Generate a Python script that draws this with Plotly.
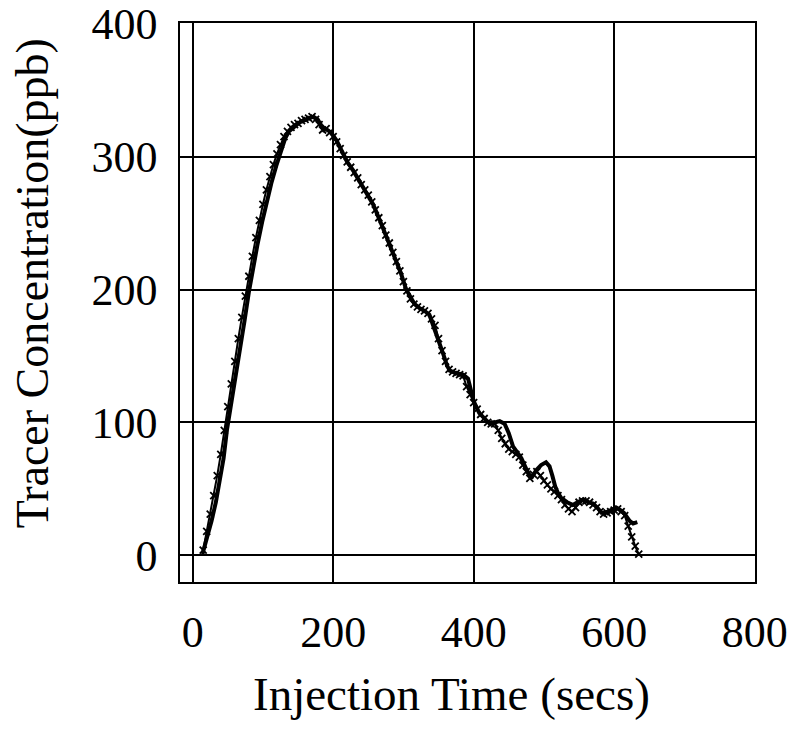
import plotly.graph_objects as go

# Solid-line series (time in secs, concentration in ppb)
time_line = [14, 20, 27, 33, 38, 44, 49, 55, 60, 67, 74, 80, 85, 92, 99, 105, 112, 119, 126,
             132, 137, 145, 153, 162, 172, 178, 186, 192, 197, 205, 213, 220, 228, 236, 245,
             257, 268, 279, 288, 296, 304, 310, 316, 323, 330, 337, 342, 347, 352, 357, 362,
             366, 375, 385, 392, 396, 400, 408, 415, 423, 430, 437, 444, 450, 456, 462, 468,
             475, 482, 489, 496, 503, 508, 512, 516, 520, 525, 533, 541, 548, 556, 563, 570,
             576, 582, 587, 591, 597, 603, 609, 614, 618, 622, 627, 633]
conc_line = [1, 12, 26, 40, 55, 73, 95, 114, 131, 155, 177, 198, 214, 233, 251, 266, 280, 293, 305,
             314, 319, 323, 326, 328, 330, 328, 321, 320, 318, 312, 303, 296, 290, 283, 275,
             264, 250, 236, 224, 213, 200, 194, 189, 186, 184, 181, 174, 167, 160, 151, 143,
             139, 137, 136, 133, 124, 116, 107, 103, 99, 100, 101, 99, 92, 82, 78, 73,
             65, 58, 64, 68, 70, 67, 60, 52, 47, 43, 40, 38, 40, 42, 40, 39,
             36, 32, 32, 33, 34, 36, 34, 32, 29, 26, 24, 25]

# Cross-marker series
time_cross = list(range(15, 640, 5))
conc_cross = [4, 18, 31, 45, 60, 76, 94, 112, 129, 146, 163, 179, 195, 210, 225, 239, 252, 264,
              275, 285, 294, 302, 309, 315, 319, 322, 324, 325, 327, 328, 329, 330, 328, 324,
              320, 321, 318, 315, 311, 306, 301, 296, 292, 288, 284, 279, 275, 271, 266, 260,
              254, 248, 241, 235, 228, 221, 214, 206, 199, 193, 189, 187, 185, 184, 182, 178,
              173, 163, 154, 146, 140, 138, 137, 136, 135, 127, 121, 115, 110, 106, 103, 100,
              99, 99, 94, 88, 84, 80, 78, 76, 74, 68, 63, 58, 61, 63, 60, 56, 53, 50,
              48, 45, 42, 38, 35, 33, 36, 40, 41, 41, 40, 38, 36, 33, 31, 32, 33, 34,
              35, 33, 30, 22, 14, 7, 1]

x_ticks = [0, 200, 400, 600, 800]
y_ticks = [0, 100, 200, 300, 400]

font_family = "Liberation Serif"

fig = go.Figure()
fig.add_trace(go.Scatter(
    x=time_cross, y=conc_cross, mode="lines+markers",
    line=dict(color="black", width=2),
    marker=dict(symbol="x-thin", size=7, line=dict(color="black", width=1.8)),
    showlegend=False,
))
fig.add_trace(go.Scatter(
    x=time_line, y=conc_line, mode="lines",
    line=dict(color="black", width=4),
    showlegend=False,
))

axis_common = dict(
    showgrid=True, gridcolor="black", gridwidth=1.5,
    showline=True, linecolor="black", linewidth=1.5, mirror=True,
    zeroline=False, automargin=False, ticklabeloverflow="allow",
    ticks="outside", tickcolor="rgba(0,0,0,0)",
    tickfont=dict(family=font_family, size=44, color="black"),
)

fig.update_xaxes(range=[-18, 800.5], tickvals=x_ticks, ticktext=[str(v) for v in x_ticks],
                 ticklen=10, **axis_common)
fig.update_yaxes(range=[-20, 400.5], tickvals=y_ticks, ticktext=[str(v) for v in y_ticks],
                 ticklen=12, **axis_common)

fig.update_layout(
    width=789, height=730,
    margin=dict(l=180, r=34, t=23, b=148),
    paper_bgcolor="white", plot_bgcolor="white",
    font=dict(family=font_family, color="black"),
    annotations=[
        dict(text="Injection Time (secs)", xref="paper", yref="paper",
             x=0.472, y=-0.200, xanchor="center", yanchor="middle", showarrow=False,
             font=dict(family=font_family, size=47, color="black")),
        dict(text="Tracer Concentration(ppb)", xref="paper", yref="paper",
             x=-0.255, y=0.535, xanchor="center", yanchor="middle", showarrow=False,
             textangle=-90,
             font=dict(family=font_family, size=46, color="black")),
    ],
)

fig.write_html("out.html")
